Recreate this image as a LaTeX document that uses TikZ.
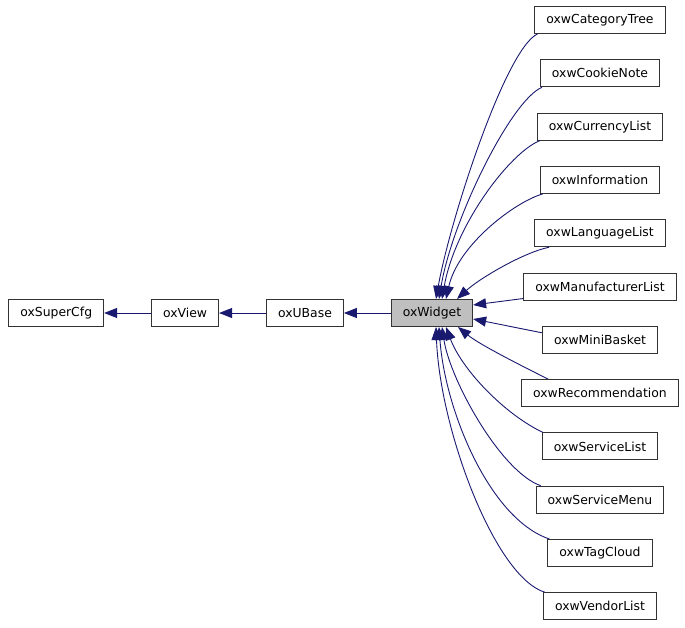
\documentclass[tikz,border=0pt]{standalone}
\usepackage{fontspec}
\setmainfont{DejaVu Sans}
\usetikzlibrary{positioning,arrows.meta}
\definecolor{edgeblue}{HTML}{191970}
\definecolor{basegray}{HTML}{BFBFBF}
\begin{document}
\begin{tikzpicture}
            [x=1pt,y=-1pt,
             cls/.style ={draw=black!80,line width=1pt,fill=white,minimum height=27pt,
                          inner xsep=11.5pt,inner ysep=0pt,font=\fontsize{12.4}{14}\selectfont},
             edge/.style ={edgeblue,line width=0.9pt,-{Triangle[length=13pt,width=10pt]}},
             node distance=25.3pt]
            \useasboundingbox (0,0) rectangle (685,627);
            \node[cls][fill=basegray] (oxWidget) at (432,313) {oxWidget};
            \node[cls] (oxUBase)[left=47pt of oxWidget] {oxUBase};
            \node[cls] (oxView)[left=47pt of oxUBase] {oxView};
            \node[cls] (oxSuperCfg)[left=47pt of oxView] {oxSuperCfg};
            \node[cls] (oxwCategoryTree) at (600,20) {oxwCategoryTree};
            \node[cls] (oxwCookieNote)[below=of oxwCategoryTree] {oxwCookieNote};
            \node[cls] (oxwCurrencyList)[below=of oxwCookieNote] {oxwCurrencyList};
            \node[cls] (oxwInformation)[below=of oxwCurrencyList] {oxwInformation};
            \node[cls] (oxwLanguageList)[below=of oxwInformation] {oxwLanguageList};
            \node[cls] (oxwManufacturerList)[below=of oxwLanguageList] {oxwManufacturerList};
            \node[cls] (oxwMiniBasket)[below=of oxwManufacturerList] {oxwMiniBasket};
            \node[cls] (oxwRecommendation)[below=of oxwMiniBasket] {oxwRecommendation};
            \node[cls] (oxwServiceList)[below=of oxwRecommendation] {oxwServiceList};
            \node[cls] (oxwServiceMenu)[below=of oxwServiceList] {oxwServiceMenu};
            \node[cls] (oxwTagCloud)[below=of oxwServiceMenu] {oxwTagCloud};
            \node[cls] (oxwVendorList)[below=of oxwTagCloud] {oxwVendorList};
            % base chain
            \draw[edge] (oxView) -- (oxSuperCfg);
            \draw[edge] (oxUBase) -- (oxView);
            \draw[edge] (oxWidget) -- (oxUBase);
            % derived widgets
            \draw[edge] ([xshift=3pt]oxwCategoryTree.south west) .. controls +(-32,15) and +(14,-79) .. ([xshift=4pt]oxWidget.north);
            \draw[edge] ([xshift=2pt]oxwCookieNote.south west) .. controls +(-31,13) and +(13,-79) .. ([xshift=7pt]oxWidget.north);
            \draw[edge] ([xshift=3pt]oxwCurrencyList.south west) .. controls +(-30,12) and +(13,-74) .. ([xshift=10pt]oxWidget.north);
            \draw[edge] ([xshift=3pt]oxwInformation.south west) .. controls +(-28,8) and +(12,-54) .. ([xshift=14pt]oxWidget.north);
            \draw[edge] ([xshift=15pt]oxwLanguageList.south west) .. controls +(-25,5) and +(23,-21) .. ([xshift=25pt]oxWidget.north);
            \draw[edge] ([yshift=2pt]oxwManufacturerList.south west) -- ([yshift=8pt]oxWidget.east);
            \draw[edge] ([yshift=7pt]oxwMiniBasket.west) -- ([yshift=-6pt]oxWidget.east);
            \draw[edge] ([xshift=27pt]oxwRecommendation.north west) .. controls +(-22,-11) and +(22,18) .. ([xshift=26pt]oxWidget.south);
            \draw[edge] ([xshift=1pt]oxwServiceList.north west) .. controls +(-38,-18) and +(16,43) .. ([xshift=14pt]oxWidget.south);
            \draw[edge] ([xshift=5pt]oxwServiceMenu.north west) .. controls +(-40,-14) and +(8,53) .. ([xshift=10pt]oxWidget.south);
            \draw[edge] ([xshift=2pt]oxwTagCloud.north west) .. controls +(-60,-20) and +(6,83) .. ([xshift=7pt]oxWidget.south);
            \draw[edge] ([xshift=2pt]oxwVendorList.north west) .. controls +(-50,-15) and +(4,103) .. ([xshift=4pt]oxWidget.south);
        \end{tikzpicture}
\end{document}
